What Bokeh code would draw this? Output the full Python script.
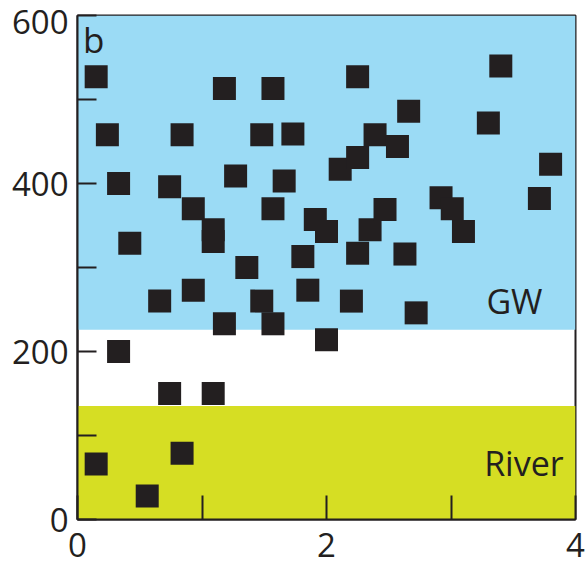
from bokeh.plotting import figure
from bokeh.models import Range1d, FixedTicker, BoxAnnotation, ColumnDataSource, LinearAxis
from bokeh.core.properties import value
from bokeh.embed import file_html
from bokeh.resources import INLINE

# ---- data ----
x_vals = [0.15, 0.24, 0.33, 0.42, 0.33, 0.66, 0.74, 0.74, 0.56, 0.84,
          0.84, 0.15, 0.93, 0.93, 1.09, 1.09, 1.09, 1.18, 1.18, 1.27,
          1.36, 1.48, 1.48, 1.57, 1.57, 1.57, 1.66, 1.73, 1.81, 1.85,
          1.91, 2.00, 2.00, 2.11, 2.20, 2.25, 2.25, 2.25, 2.35, 2.39,
          2.47, 2.57, 2.63, 2.66, 2.72, 2.92, 3.01, 3.10, 3.30, 3.40,
          3.71, 3.80]
y_vals = [527, 458, 400, 329, 200, 260, 396, 150, 28, 458,
          79, 66, 370, 273, 345, 331, 150, 513, 233, 409,
          300, 458, 260, 513, 370, 233, 403, 459, 313, 273,
          357, 343, 214, 417, 260, 527, 431, 317, 345, 458,
          369, 444, 316, 486, 246, 383, 370, 343, 472, 540,
          382, 423]

gw_min = 226      # lower limit of GW band
river_max = 135   # upper limit of River band
y_ticks = [0, 100, 200, 300, 400, 500, 600]
y_label_values = [0, 200, 400, 600]
y_label_texts = ["0", "200", "400", "600"]
x_ticks = [0, 1, 2, 3, 4]
x_tick_labels = ["0", "", "2", "", "4"]

panel_label = "b"
panel_label_x = 0.045
panel_label_y = 571
band_labels = ["GW", "River"]
band_label_x = [3.735, 3.905]
band_label_y = [260, 67]

BLUE = "#9BDBF5"
GREEN = "#D6DE23"
DARK = "#231F20"
FONT = "Open Sans"

FRAME_H = 504
Y_MIN, Y_MAX = 0, 600
top_label_drop_px = 6   # the top label sits a little below its tick

p = figure(frame_width=498, frame_height=FRAME_H, width=585, height=567,
           x_range=Range1d(0, 4), y_range=Range1d(Y_MIN, Y_MAX),
           output_backend="svg", toolbar_location=None,
           min_border_left=77, min_border_top=15, min_border_right=10,
           min_border_bottom=48)

p.background_fill_color = "white"
p.border_fill_color = "white"
p.outline_line_color = DARK
p.outline_line_width = 2
p.grid.visible = False

p.add_layout(BoxAnnotation(bottom=gw_min, fill_color=BLUE, fill_alpha=1.0,
                           line_color=None, level="underlay"))
p.add_layout(BoxAnnotation(top=river_max, fill_color=GREEN, fill_alpha=1.0,
                           line_color=None, level="underlay"))

src = ColumnDataSource(dict(x=x_vals, y=y_vals))
p.scatter("x", "y", source=src, marker="square", size=23,
          fill_color=DARK, line_color=None)

p.text(x=[panel_label_x], y=[panel_label_y], text=[panel_label], text_font=value(FONT),
       text_font_size="35px", text_color=DARK, text_baseline="alphabetic",
       text_align="left")
p.text(x=band_label_x, y=band_label_y, text=band_labels, text_font=value(FONT),
       text_font_size="34px", text_color=DARK, text_baseline="alphabetic",
       text_align="right")

# inner y axis: line and ticks only
p.yaxis.ticker = FixedTicker(ticks=y_ticks)
p.yaxis.major_label_overrides = {t: "" for t in y_ticks}
p.yaxis.major_label_standoff = 0
p.yaxis.major_label_text_font_size = "0px"
p.yaxis.major_tick_in = 19

# x axis
p.xaxis.ticker = FixedTicker(ticks=x_ticks)
p.xaxis.major_label_overrides = {t: l for t, l in zip(x_ticks, x_tick_labels)}
p.xaxis.major_tick_in = 24
p.xaxis.major_label_standoff = 13
p.xaxis.major_label_text_font = FONT
p.xaxis.major_label_text_font_size = "33px"
p.xaxis.major_label_text_color = DARK

for ax in (p.xaxis, p.yaxis):
    ax.axis_line_color = DARK
    ax.axis_line_width = 2
    ax.major_tick_line_color = DARK
    ax.major_tick_line_width = 2
    ax.minor_tick_line_color = None
    ax.major_tick_out = 0

# outer y axis: labels only (top label nudged down so it stays on the page)
units_per_px = (Y_MAX - Y_MIN) / FRAME_H
label_pos = [v - top_label_drop_px * units_per_px if v == Y_MAX else v
             for v in y_label_values]
lab_axis = LinearAxis(ticker=FixedTicker(ticks=label_pos),
                      major_label_overrides={pos: t for pos, t in zip(label_pos, y_label_texts)},
                      axis_line_color=None, major_tick_line_color=None,
                      minor_tick_line_color=None, major_tick_out=0, major_tick_in=0,
                      major_label_standoff=9, major_label_text_font=FONT,
                      major_label_text_font_size="33px", major_label_text_color=DARK)
p.add_layout(lab_axis, "left")

open("out.html", "w").write(file_html(p, INLINE))
